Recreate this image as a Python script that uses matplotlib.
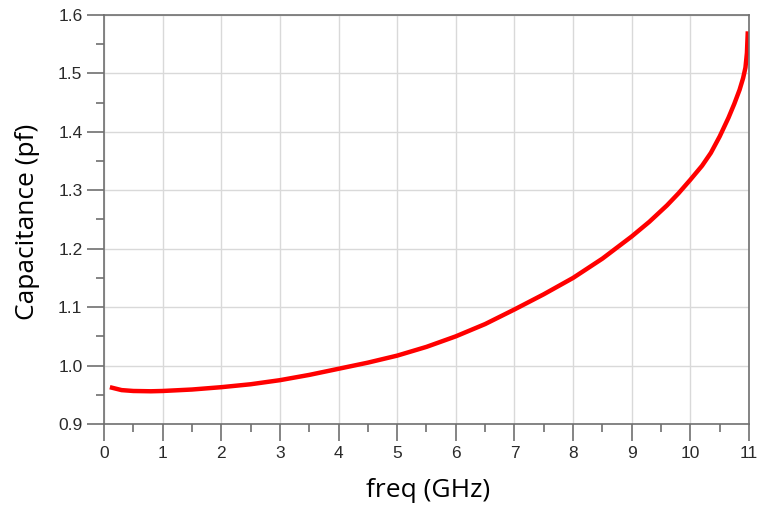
import numpy as np
import matplotlib.pyplot as plt
from matplotlib.ticker import MultipleLocator

# 读取的曲线数据 (GHz, pF)
freq = [0.1, 0.3, 0.5, 0.8, 1.0, 1.5, 2.0, 2.5, 3.0, 3.5, 4.0, 4.5, 5.0,
        5.5, 6.0, 6.5, 7.0, 7.5, 8.0, 8.5, 9.0, 9.3, 9.6, 9.8, 10.0,
        10.2, 10.35, 10.5, 10.65, 10.75, 10.84, 10.9, 10.94, 10.965, 10.98]
cap = [0.963, 0.958, 0.9565, 0.956, 0.9565, 0.959, 0.963, 0.968, 0.975,
       0.984, 0.9945, 1.005, 1.017, 1.032, 1.050, 1.071, 1.096, 1.122,
       1.150, 1.183, 1.221, 1.246, 1.274, 1.295, 1.318, 1.342, 1.364,
       1.392, 1.424, 1.448, 1.472, 1.492, 1.510, 1.535, 1.572]

x_ticks = np.arange(0, 12, 1)
y_ticks = [0.9, 1.0, 1.1, 1.2, 1.3, 1.4, 1.5, 1.6]
y_labels = ['0.9', '1.0', '1.1', '1.2', '1.3', '1.4', '1.5', '1.6']

fig = plt.figure(figsize=(7.57, 5.13), dpi=100)
ax = fig.add_axes([0.1374, 0.1735, 0.852, 0.7973])

ax.plot(freq, cap, color='#ff0000', linewidth=3.2, solid_capstyle='butt')

ax.set_xlim(0, 11)
ax.set_ylim(0.9, 1.6)
ax.set_xticks(x_ticks)
ax.set_yticks(y_ticks)
ax.set_yticklabels(y_labels)
ax.xaxis.set_minor_locator(MultipleLocator(0.5))
ax.yaxis.set_minor_locator(MultipleLocator(0.05))

ax.grid(True, which='major', color='#d9d9d9', linewidth=1.0)
ax.set_axisbelow(True)

for s in ax.spines.values():
    s.set_color('#707070')
    s.set_linewidth(1.2)

ax.tick_params(which='major', direction='out', length=12.5, width=1.2,
               color='#707070', labelsize=12.5, pad=3, labelcolor='#2a2a2a')
ax.tick_params(which='minor', direction='out', length=6, width=1.2,
               color='#707070')
for lab in ax.get_xticklabels() + ax.get_yticklabels():
    lab.set_family('Liberation Sans')

ax.set_xlabel('freq (GHz)', fontsize=19, family='Open Sans')
ax.set_ylabel('Capacitance (pf)', fontsize=19, family='Open Sans')
ax.xaxis.set_label_coords(0.502, -0.132)
ax.yaxis.set_label_coords(-0.1, 0.495)

fig.savefig('out.png', dpi=100)
